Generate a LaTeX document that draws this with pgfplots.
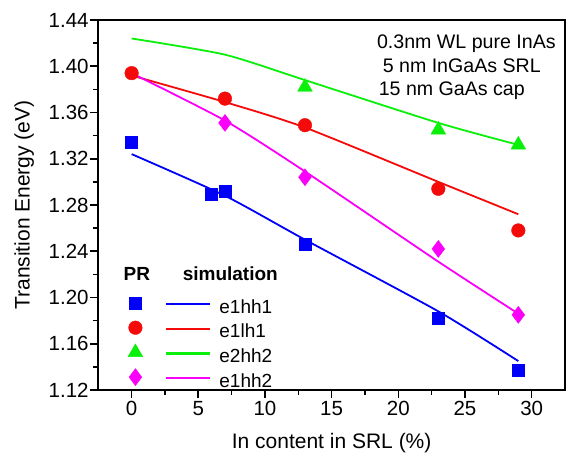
\documentclass[border=0pt]{standalone}
\usepackage{fontspec}
\setmainfont{Liberation Sans}
\usepackage{pgfplots}
\pgfplotsset{compat=1.18}

\definecolor{cblue}{RGB}{0,0,250}
\definecolor{cred}{RGB}{245,10,10}
\definecolor{cgreen}{RGB}{10,240,10}
\definecolor{cmag}{RGB}{250,0,250}

% legend key: PR marker on the left, simulation line on the right
\pgfplotsset{
  prkey/.style n args={3}{legend image code/.code={%
    \path[draw=none, fill=none] (-10pt,-10pt) rectangle (84pt,10pt);
    \draw[draw=#1, line width=2.2pt, solid] (31pt,0pt) -- (75pt,0pt);
    \path[draw=none, fill=#1] plot[mark=#2, mark size=#3,
      mark options={solid, draw=#1, fill=#1}] coordinates {(0pt,1pt)};
  }},
}

\begin{document}
\begin{tikzpicture}
\begin{axis}[
  scale only axis, width=466.7pt, height=370pt,
  xmin=-2.5, xmax=32.5, ymin=1.12, ymax=1.44,
  xtick={0,5,10,15,20,25,30}, minor x tick num=1,
  ytick={1.12,1.16,1.20,1.24,1.28,1.32,1.36,1.40,1.44}, minor y tick num=1,
  xtick pos=bottom, ytick pos=left,
  tick align=outside,
  major tick length=8pt, minor tick length=5pt,
  axis line style={line width=2.4pt},
  every tick/.style={black, line width=1.6pt},
  /pgf/number format/assume math mode=true,
  yticklabel style={/pgf/number format/fixed, /pgf/number format/fixed zerofill,
    /pgf/number format/precision=2, inner sep=1.5pt},
  tick label style={font=\fontsize{20.5}{24}\selectfont},
  label style={font=\fontsize{21}{25}\selectfont},
  xlabel={In content in SRL (\%)},
  ylabel={Transition Energy (eV)},
  xlabel style={at={(axis description cs:0.5,-0.144)}, anchor=center},
  ylabel style={at={(axis description cs:-0.1588,0.5)}, anchor=center},
  clip=false,
  legend cell align=left,
  legend style={draw=none, fill=none, inner sep=0pt, outer sep=0pt,
    at={(axis cs:-0.466,1.203)}, anchor=north west,
    row sep=4.7pt, column sep=0pt,
    font=\fontsize{19}{22}\selectfont,
    nodes={inner sep=0pt, text height=19pt, text depth=1pt}},
]
% simulation
\addplot[cblue, line width=1.8pt, smooth, tension=0.4, forget plot] coordinates {
  (0,1.324)(7,1.288)(13,1.250)(23,1.188)(29,1.145)};
\addplot[cred, line width=1.8pt, smooth, tension=0.4, forget plot] coordinates {
  (0,1.392)(7,1.369)(13,1.347)(23,1.300)(29,1.272)};
\addplot[cgreen, line width=1.8pt, smooth, tension=0.4, forget plot] coordinates {
  (0,1.424)(7,1.410)(13,1.388)(23,1.351)(29,1.332)};
\addplot[cmag, line width=1.8pt, smooth, tension=0.4, forget plot] coordinates {
  (0,1.394)(7,1.353)(13,1.309)(23,1.231)(29,1.186)};
% PR
\addplot[only marks, mark=square*, mark size=6pt, cblue, forget plot] coordinates {
  (0,1.334)(6,1.289)(7,1.292)(13,1.246)(23,1.182)(29,1.137)};
\addplot[only marks, mark=*, mark size=6.8pt, cred, forget plot] coordinates {
  (0,1.394)(7,1.372)(13,1.349)(23,1.294)(29,1.258)};
\addplot[only marks, mark=triangle*, mark size=8.5pt, cgreen, forget plot] coordinates {
  (13,1.382)(23,1.345)(29,1.332)};
\addplot[only marks, mark=diamond*, mark size=8.5pt, cmag, forget plot] coordinates {
  (7,1.351)(13,1.304)(23,1.242)(29,1.185)};

\addlegendimage{prkey={cblue}{square*}{6pt}}
\addlegendentry{e1hh1}
\addlegendimage{prkey={cred}{*}{6.8pt}}
\addlegendentry{e1lh1}
\addlegendimage{prkey={cgreen}{triangle*}{8.5pt}}
\addlegendentry{e2hh2}
\addlegendimage{prkey={cmag}{diamond*}{8.5pt}}
\addlegendentry{e1hh2}

\node[anchor=base west, inner sep=0pt, font=\fontsize{19}{22}\selectfont\bfseries]
  at (axis cs:-0.616,1.2145) {PR};
\node[anchor=base west, inner sep=0pt, font=\fontsize{19}{22}\selectfont\bfseries]
  at (axis cs:3.82,1.2145) {simulation};

\node[anchor=base west, inner sep=0pt, font=\fontsize{19.6}{23}\selectfont]
  at (axis cs:18.39,1.4154) {0.3nm WL pure InAs};
\node[anchor=base west, inner sep=0pt, font=\fontsize{19.6}{23}\selectfont]
  at (axis cs:18.82,1.3942) {5 nm InGaAs SRL};
\node[anchor=base west, inner sep=0pt, font=\fontsize{19.6}{23}\selectfont]
  at (axis cs:18.52,1.3748) {15 nm GaAs cap};

\coordinate (bbsw) at (rel axis cs:-0.2106,-0.173);
\coordinate (bbne) at (rel axis cs:1.0043,1.054);
\end{axis}
\pgfresetboundingbox
\path (bbsw) rectangle (bbne);
\end{tikzpicture}
\end{document}
